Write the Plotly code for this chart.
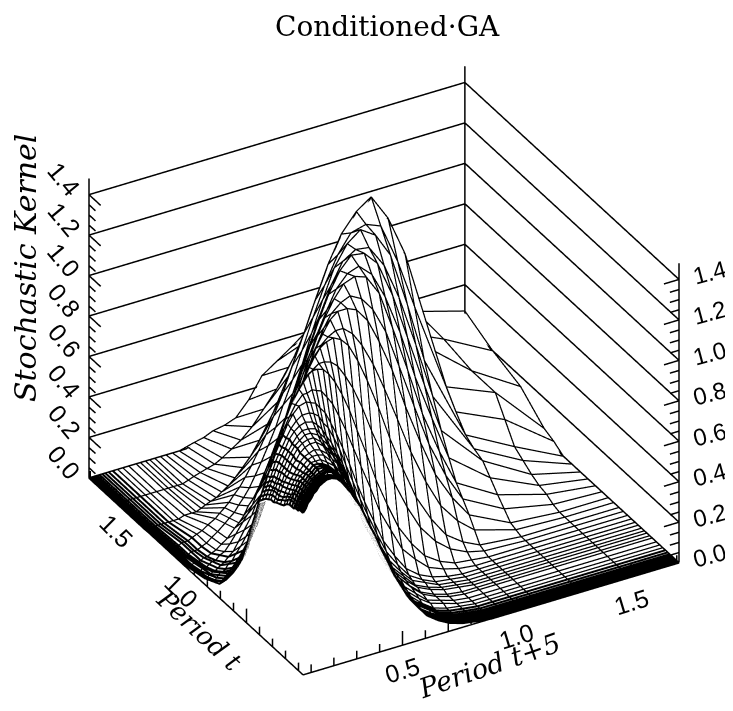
import plotly.graph_objects as go

# grid positions of the mesh (same for both period axes)
period_grid = [0.065,0.072,0.078,0.085,0.093,0.101,0.111,0.123,0.136,0.151,0.169,0.190,0.213,0.239,
               0.271,0.290,0.312,0.331,0.353,0.378,0.402,0.430,0.460,0.493,0.526,0.567,0.608,0.657,
               0.707,0.764,0.822,0.888,0.953,1.027,1.101,1.282,1.496,1.710]

# stochastic kernel values x100, one row per period t grid line
row_a = [80,81,82,84,85,86,88,89,91,92,93,93,92,89,84,80,76,71,65,59,52,45,37,30,23,17,11,7,4,2,1,0,0,0,0,0,0,0]
row_b = [79,81,82,83,85,86,88,89,91,92,93,94,93,90,85,81,77,72,67,60,53,46,38,31,24,17,11,7,4,2,1,0,0,0,0,0,0,0]
row_c = [78,80,81,83,84,86,88,89,91,92,94,94,93,91,87,83,78,73,68,62,55,47,39,32,25,18,12,8,4,2,1,0,0,0,0,0,0,0]
row_d = [77,79,80,81,83,85,87,89,90,92,94,94,94,92,89,85,81,76,71,64,57,50,42,34,26,19,13,8,4,2,1,0,0,0,0,0,0,0]
row_e = [75,77,79,80,82,84,86,88,90,92,94,95,95,94,90,87,83,78,73,67,60,52,44,36,28,21,14,9,5,3,1,0,0,0,0,0,0,0]
row_f = [74,76,77,79,81,83,85,87,89,92,94,95,96,95,92,89,86,81,76,70,63,55,47,38,30,22,15,10,5,3,1,0,0,0,0,0,0,0]
row_g = [73,74,76,78,80,82,84,86,89,91,94,96,97,97,94,91,88,84,79,73,66,58,49,40,32,24,17,11,6,3,1,0,0,0,0,0,0,0]
row_g2 = [72,74,76,77,80,81,84,86,89,92,95,97,98,98,95,92,89,85,81,75,68,60,51,42,33,25,17,11,6,3,1,0,0,0,0,0,0,0]
row_h = [72,74,76,77,79,81,84,86,89,92,95,97,99,99,97,94,91,87,83,77,70,62,53,44,35,26,18,12,7,4,2,1,0,0,0,0,0,0]
row_h2 = [71,73,75,76,78,80,83,86,89,92,95,98,100,100,99,96,93,89,85,79,73,64,55,46,37,28,19,13,7,4,2,1,0,0,0,0,0,0]
row_i = [70,72,74,76,78,80,83,86,89,92,96,99,101,102,101,99,96,92,88,82,76,67,58,49,40,30,21,14,8,5,2,1,0,0,0,0,0,0]
row_i2 = [68,70,72,74,76,78,81,85,88,91,95,99,102,104,104,103,101,97,94,88,82,73,64,54,45,34,24,16,9,5,2,1,0,0,0,0,0,0]
row_j = [66,68,70,72,74,77,80,83,87,91,95,100,104,107,108,107,106,103,100,94,88,80,71,60,50,39,28,19,11,6,3,1,0,0,0,0,0,0]
row_j2 = [58,60,62,64,67,70,73,76,80,85,90,96,101,106,110,110,111,110,109,105,101,94,86,76,66,54,41,30,19,12,6,3,1,0,0,0,0,0]
row_k = [50,52,54,56,59,62,65,69,73,78,84,91,98,105,111,114,117,118,118,117,114,109,102,93,82,69,55,41,28,18,10,5,2,1,0,0,0,0]
row_k2 = [40,42,44,46,48,51,54,57,61,66,72,78,86,94,102,107,111,114,116,118,118,117,114,108,101,90,77,63,48,34,22,13,7,3,1,0,0,0]
row_l = [31,32,34,35,38,40,42,45,49,54,59,66,74,82,93,99,105,110,115,120,123,125,126,124,120,111,100,85,68,51,35,22,12,6,2,0,0,0]
row_l2 = [24,25,27,28,30,32,34,36,40,44,48,55,62,70,80,86,93,99,105,111,116,121,124,126,126,122,115,104,90,73,55,38,24,14,7,1,0,0]
row_m = [18,19,20,21,22,24,26,28,31,34,38,44,50,58,67,74,81,88,94,102,109,117,123,129,132,132,130,123,111,95,75,55,37,23,12,2,0,0]
row_m2 = [12,13,14,15,16,17,19,20,23,25,29,34,39,46,54,61,68,74,81,89,97,106,114,122,128,132,134,131,124,111,92,70,49,31,17,6,1,0]
row_n = [7,8,8,9,10,11,12,13,15,17,20,24,28,34,42,48,55,61,68,77,85,95,105,115,123,131,137,139,137,127,108,85,61,40,22,10,3,0]
row_n2 = [5,5,5,6,7,8,8,9,11,12,15,18,22,27,34,40,45,51,57,66,73,83,93,103,112,122,131,137,139,133,120,100,76,53,31,15,4,0]
row_o = [3,3,3,4,4,5,5,6,7,8,10,12,16,21,27,32,36,42,47,55,62,72,81,91,102,114,125,135,141,140,133,115,92,66,41,20,6,0]
row_o2 = [2,2,2,2,3,3,3,4,5,5,7,8,11,15,20,23,27,32,36,42,49,57,66,75,86,99,111,124,134,138,137,126,108,82,54,22,9,0]
row_p = [1,1,1,1,2,2,2,2,3,3,4,5,7,9,13,15,18,22,25,30,36,43,51,60,71,84,98,113,127,137,142,137,125,98,68,25,12,0]
row_p2 = [1,1,1,1,1,1,1,2,2,2,3,4,6,8,11,13,15,18,21,25,30,36,43,51,61,72,85,100,114,127,136,138,135,115,90,32,21,3]
row_q = [1,1,1,1,1,1,1,2,2,2,3,4,5,7,9,11,13,15,18,21,25,30,36,43,51,61,73,87,102,118,131,140,145,132,112,40,30,5]
row_r = [0,0,0,0,0,0,0,0,0,0,0,0,0,1,1,1,2,3,4,5,7,9,12,16,20,27,34,44,56,71,87,99,110,115,106,50,30,15]
row_s = [0,0,0,0,0,0,0,0,0,0,0,0,0,0,0,0,0,0,0,1,2,3,4,5,7,10,13,18,25,33,42,52,62,68,70,44,33,20]
row_t = [0,0,0,0,0,0,0,0,0,0,0,0,0,0,0,0,0,0,0,0,0,0,0,1,2,3,5,6,8,15,25,30,35,37,38,36,34,27]

kernel_rows = ([row_a]*5 + [row_b]*3 + [row_c]*3 +
               [row_d,row_e,row_f,row_g,row_g2,row_h,row_h2,row_i,row_i2,row_j,row_j2,row_k,row_k2,row_l,row_l2,
                row_m,row_m2,row_n,row_n2,row_o,row_o2,row_p,row_p2,row_q,row_r,row_s,row_t])

x_span = [0.065, 1.71]
y_span = [0.065, 1.71]
z_top = 1.48
xy_major = [0.5, 1.0, 1.5]
xy_labelled_on_y = [1.0, 1.5]
xy_minor = [0.1,0.2,0.3,0.4,0.6,0.7,0.8,0.9,1.1,1.2,1.3,1.4,1.6,1.7]
z_major = [0.0,0.2,0.4,0.6,0.8,1.0,1.2,1.4]
z_minor = [0.05,0.1,0.15,0.25,0.3,0.35,0.45,0.5,0.55,0.65,0.7,0.75,0.85,0.9,0.95,
           1.05,1.1,1.15,1.25,1.3,1.35]

X0, X1 = x_span
Y0, Y1 = y_span
kernel = [[v/100 for v in row] for row in kernel_rows]

fig = go.Figure()
# white hidden-surface sheet slightly under the mesh lines
fig.add_trace(go.Surface(x=period_grid, y=period_grid, z=[[v-0.012 for v in r] for r in kernel],
                         colorscale=[[0,"white"],[1,"white"]], showscale=False, hoverinfo="skip",
                         lighting=dict(ambient=1,diffuse=0,specular=0,fresnel=0,roughness=1)))

def line(xs, ys, zs, width):
    fig.add_trace(go.Scatter3d(x=xs,y=ys,z=zs,mode="lines",line=dict(color="black",width=width),
                               hoverinfo="skip",showlegend=False))

def mesh_width(k):
    return 4 if k < 11 else 2.5

n = len(period_grid)
for j, yv in enumerate(period_grid):
    line(period_grid, [yv]*n, kernel[j], mesh_width(j))
for i, xv in enumerate(period_grid):
    line([xv]*n, period_grid, [kernel[j][i] for j in range(n)], mesh_width(i))

# frame, walls and ticks
def seg(a,b):
    line([a[0],b[0]],[a[1],b[1]],[a[2],b[2]],3)
seg((X0,Y0,0),(X1,Y0,0)); seg((X0,Y0,0),(X0,Y1,0))
seg((X0,Y1,0),(X0,Y1,z_top)); seg((X1,Y0,0),(X1,Y0,z_top)); seg((X1,Y1,0),(X1,Y1,z_top))
for z in z_major:
    seg((X0,Y1,z),(X1,Y1,z)); seg((X1,Y1,z),(X1,Y0,z))
    seg((X0,Y1,z),(X0,Y1-0.09,z)); seg((X1,Y0,z),(X1-0.066,Y0,z))
for z in z_minor:
    seg((X0,Y1,z),(X0,Y1-0.05,z)); seg((X1,Y0,z),(X1-0.04,Y0,z))
for v in xy_major:
    seg((v,Y0,0),(v,Y0,0.07)); seg((X0,v,0),(X0,v,0.07))
for v in xy_minor:
    seg((v,Y0,0),(v,Y0,0.04)); seg((X0,v,0),(X0,v,0.04))

LAB = dict(family="Liberation Sans", size=25, color="black")
LABR = dict(family="Liberation Sans", size=24, color="black")
notes = []
for v in xy_major:
    notes.append(dict(x=v,y=Y0,z=0,text=f"{v:.1f}",showarrow=False,textangle=-17,yshift=-25,font=LAB))
for v in xy_labelled_on_y:
    notes.append(dict(x=X0,y=v,z=0,text=f"{v:.1f}",showarrow=False,textangle=45,yshift=-28,font=LAB))
for z in z_major:
    notes.append(dict(x=X0,y=Y1,z=z,text=f"{z:.1f}",showarrow=False,textangle=50,xshift=-25,yshift=16,font=LAB))
    notes.append(dict(x=X1,y=Y0,z=z,text=f"{z:.1f}",showarrow=False,textangle=-15,xshift=30,yshift=7,font=LABR))

hidden = dict(visible=False)
C = dict(xanchor="center", yanchor="middle", xref="paper", yref="paper", showarrow=False)
fig.update_layout(
    width=733, height=711, margin=dict(l=0,r=0,t=0,b=0), paper_bgcolor="white", showlegend=False,
    scene=dict(
        domain=dict(x=[0.026,1],y=[0.0056,0.9888]),
        xaxis=dict(range=[0.045,1.73],**hidden), yaxis=dict(range=[0.045,1.73],**hidden), zaxis=dict(range=[-0.03,1.56],**hidden),
        aspectmode="manual", aspectratio=dict(x=1.268,y=1.268,z=1.238*0.796*1.59/1.45),
        camera=dict(eye=dict(x=-0.843,y=-1.480,z=1.048),center=dict(x=0,y=0,z=0),up=dict(x=0,y=0,z=1),
                    projection=dict(type="orthographic")),
        annotations=notes),
    annotations=[
        dict(x=379/733,y=1-19/711,text="Conditioned·GA",font=dict(family="DejaVu Serif",size=28,color="black"),**C),
        dict(x=17/733,y=1-260/711,text="<i>Stochastic Kernel</i>",textangle=-90,
             font=dict(family="DejaVu Serif",size=30,color="black"),**C),
        dict(x=191/733,y=1-622/711,text="<i>Period t</i>",textangle=43,
             font=dict(family="DejaVu Serif",size=26,color="black"),**C),
        dict(x=481/733,y=1-657/711,text="<i>Period t+5</i>",textangle=-19,
             font=dict(family="DejaVu Serif",size=27,color="black"),**C),
    ])
fig.write_html("out.html")
